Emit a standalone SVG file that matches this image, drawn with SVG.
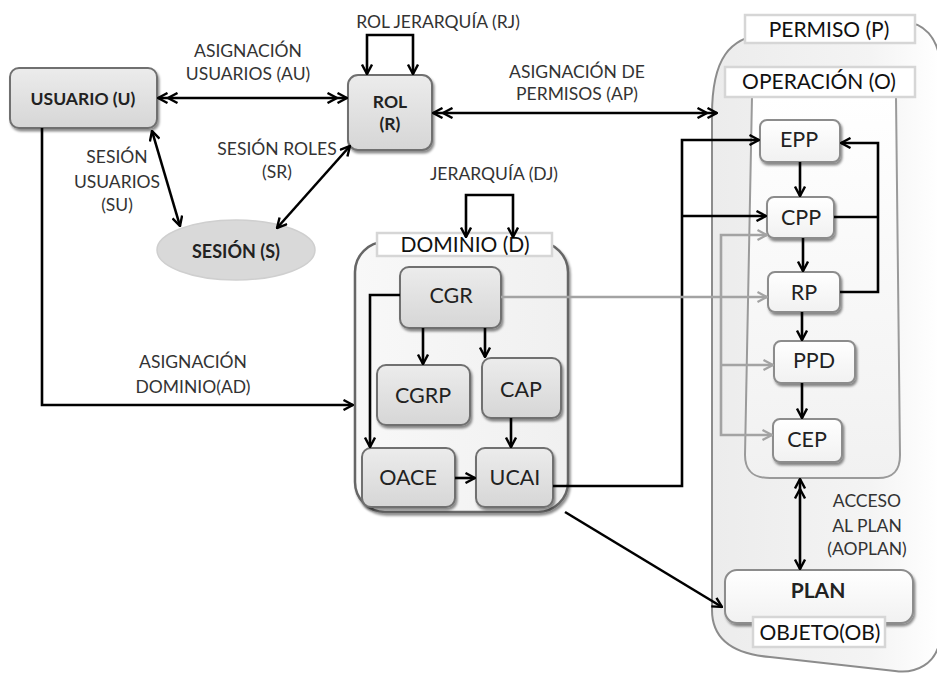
<svg xmlns="http://www.w3.org/2000/svg" width="937" height="675" viewBox="0 0 937 675">
<defs>
<style>
.lbl{font-family:Lato,"Liberation Sans",sans-serif;font-size:17.5px;fill:#333;text-anchor:middle}
.tg{font-family:Lato,"Liberation Sans",sans-serif;font-size:21px;fill:#111;text-anchor:middle}
.nt{font-family:Lato,"Liberation Sans",sans-serif;font-size:21.5px;fill:#222;text-anchor:middle}
.bt{font-family:Lato,"Liberation Sans",sans-serif;font-size:17.5px;font-weight:bold;fill:#222;text-anchor:middle}
.gn{fill:url(#gg);stroke:#707070;stroke-width:2}
.wn{fill:url(#wg);stroke:#8c8c8c;stroke-width:2}
.tag{fill:#fff;stroke:#d6d6d6;stroke-width:2.5}
.k{fill:none;stroke:#000;stroke-width:2.6}
.g{fill:none;stroke:#a3a3a3;stroke-width:2.6}
</style>
<linearGradient id="gg" x1="0" y1="0" x2="0" y2="1"><stop offset="0" stop-color="#ececec"/><stop offset="1" stop-color="#d6d6d6"/></linearGradient>
<linearGradient id="wg" x1="0" y1="0" x2="0" y2="1"><stop offset="0" stop-color="#ffffff"/><stop offset="1" stop-color="#f1f1f1"/></linearGradient>
<linearGradient id="pg" x1="0" y1="0" x2="1" y2="0"><stop offset="0" stop-color="#ececec"/><stop offset="0.7" stop-color="#f4f4f4"/><stop offset="1" stop-color="#ffffff"/></linearGradient>
<linearGradient id="dg" x1="0" y1="0" x2="1" y2="0"><stop offset="0" stop-color="#f8f8f8"/><stop offset="1" stop-color="#f0f0f0"/></linearGradient>
<filter id="sh" x="-10%" y="-10%" width="130%" height="140%"><feDropShadow dx="1.5" dy="2.5" stdDeviation="1.2" flood-color="#000" flood-opacity="0.45"/></filter>
<marker id="a" viewBox="0 0 12 12" refX="11" refY="6" markerWidth="12" markerHeight="12" orient="auto-start-reverse" markerUnits="userSpaceOnUse"><path d="M1.5 1 L11 6 L1.5 11" fill="none" stroke="#000" stroke-width="2.4"/></marker>
<marker id="a2" viewBox="0 0 22 12" refX="21" refY="6" markerWidth="22" markerHeight="12" orient="auto-start-reverse" markerUnits="userSpaceOnUse"><path d="M1.5 1 L11 6 L1.5 11 M11.5 1 L21 6 L11.5 11" fill="none" stroke="#000" stroke-width="2.4"/></marker>
<marker id="ag" viewBox="0 0 12 12" refX="11" refY="6" markerWidth="12" markerHeight="12" orient="auto-start-reverse" markerUnits="userSpaceOnUse"><path d="M1.5 1 L11 6 L1.5 11" fill="none" stroke="#a3a3a3" stroke-width="2.2"/></marker>
</defs>
<rect width="937" height="675" fill="#fff"/>

<g id="permiso">
<path d="M712 115 C712 60 728 36 770 33 L900 22 C926 21 937 40 940 60 L940 640 C936 664 916 674 895 671 L770 657 C734 654 712 640 712 610 Z" fill="url(#pg)" stroke="#8c8c8c" stroke-width="2"/>
<rect class="tag" x="745" y="15" width="170" height="28"/>
<text class="tg" x="829" y="37">PERMISO (P)</text>
</g>

<g id="operacion">
<path d="M752 97 L745 455 C745 470 752 478 770 478 L878 478 C894 478 900 470 900 455 L896 97 Z" fill="url(#wg)" stroke="#9a9a9a" stroke-width="2"/>
<rect class="tag" x="725" y="67" width="190" height="30"/>
<text class="tg" x="819" y="89">OPERACIÓN (O)</text>
</g>

<g id="dominio">
<rect x="355" y="242" width="213" height="270" rx="30" fill="url(#dg)" stroke="#666" stroke-width="2.5" filter="url(#sh)"/>
<rect class="tag" x="377" y="233" width="175" height="23"/>
<text class="tg" x="465" y="252">DOMINIO (D)</text>
</g>

<g id="usuario"><rect class="gn" x="10" y="68" width="147" height="60" rx="9" filter="url(#sh)"/><text class="bt" x="83" y="105">USUARIO (U)</text></g>
<g id="rol"><rect class="gn" x="348" y="75" width="84" height="75" rx="10" filter="url(#sh)"/><text class="bt" x="390" y="108">ROL</text><text class="bt" x="390" y="130">(R)</text></g>
<g id="sesion"><ellipse cx="236" cy="250" rx="79" ry="30" fill="#d9d9d9" stroke="#cfcfcf" stroke-width="1.5"/><text class="bt" x="236" y="258" style="font-size:18px">SESIÓN (S)</text></g>

<g id="cgr"><rect class="gn" x="400" y="267" width="101" height="61" rx="9" filter="url(#sh)"/><text class="nt" x="451" y="303">CGR</text></g>
<g id="cgrp"><rect class="gn" x="377" y="365" width="93" height="60" rx="9" filter="url(#sh)"/><text class="nt" x="423" y="403">CGRP</text></g>
<g id="cap"><rect class="gn" x="482" y="358" width="79" height="60" rx="9" filter="url(#sh)"/><text class="nt" x="521" y="397">CAP</text></g>
<g id="oace"><rect class="gn" x="362" y="448" width="93" height="59" rx="9" filter="url(#sh)"/><text class="nt" x="408" y="485">OACE</text></g>
<g id="ucai"><rect class="gn" x="476" y="448" width="77" height="59" rx="9" filter="url(#sh)"/><text class="nt" x="515" y="485">UCAI</text></g>

<g id="epp"><rect class="wn" x="760" y="120" width="80" height="42" rx="7" filter="url(#sh)"/><text class="nt" x="799" y="147">EPP</text></g>
<g id="cpp"><rect class="wn" x="767" y="197" width="67" height="41" rx="7" filter="url(#sh)"/><text class="nt" x="801" y="225">CPP</text></g>
<g id="rp"><rect class="wn" x="768" y="272" width="72" height="40" rx="7" filter="url(#sh)"/><text class="nt" x="804" y="300">RP</text></g>
<g id="ppd"><rect class="wn" x="774" y="341" width="81" height="42" rx="7" filter="url(#sh)"/><text class="nt" x="814" y="368">PPD</text></g>
<g id="cep"><rect class="wn" x="773" y="419" width="69" height="43" rx="7" filter="url(#sh)"/><text class="nt" x="807" y="447">CEP</text></g>

<g id="plan"><rect class="wn" x="725" y="570" width="188" height="53" rx="12" filter="url(#sh)"/><text class="bt" x="818" y="598" style="font-size:21px">PLAN</text>
<rect class="tag" x="753" y="617" width="132" height="30"/><text class="tg" x="820" y="640">OBJETO(OB)</text></g>

<g id="connectors">
<line class="k" x1="158" y1="98" x2="347" y2="98" marker-start="url(#a2)" marker-end="url(#a2)"/>
<path class="k" d="M367 74 L367 35 L413 35 L413 74" marker-start="url(#a)" marker-end="url(#a)"/>
<line class="k" x1="433" y1="113" x2="717" y2="113" marker-start="url(#a2)" marker-end="url(#a2)"/>
<line class="k" x1="152" y1="131" x2="180" y2="226" marker-start="url(#a)" marker-end="url(#a)"/>
<line class="k" x1="350" y1="146" x2="277" y2="228" marker-start="url(#a)" marker-end="url(#a)"/>
<path class="k" d="M42 128 L42 405 L353 405" marker-end="url(#a)"/>
<path class="k" d="M466 237 L466 195 L513 195 L513 237" marker-start="url(#a)" marker-end="url(#a)"/>
<line class="k" x1="423" y1="328" x2="423" y2="364" marker-end="url(#a)"/>
<line class="k" x1="485" y1="328" x2="485" y2="357" marker-end="url(#a)"/>
<line class="k" x1="511" y1="418" x2="511" y2="447" marker-end="url(#a)"/>
<line class="k" x1="455" y1="478" x2="475" y2="478" marker-end="url(#a)"/>
<path class="k" d="M400 295 L370 295 L370 447" marker-end="url(#a)"/>
<path class="k" d="M553 486 L682 486 L682 140 L759 140" marker-end="url(#a)"/>
<line class="k" x1="682" y1="216" x2="766" y2="216" marker-end="url(#a)"/>
<line class="k" x1="800" y1="162" x2="800" y2="196" marker-end="url(#a)"/>
<line class="k" x1="803" y1="238" x2="803" y2="271" marker-end="url(#a)"/>
<line class="k" x1="802" y1="312" x2="802" y2="340" marker-end="url(#a)"/>
<line class="k" x1="802" y1="383" x2="802" y2="418" marker-end="url(#a)"/>
<line class="k" x1="834" y1="217" x2="878" y2="217"/>
<path class="k" d="M840 292 L878 292 L878 143 L841 143" marker-end="url(#a)"/>
<line class="k" x1="565" y1="512" x2="722" y2="607" marker-end="url(#a)"/>
<line class="k" x1="800" y1="479" x2="800" y2="569" marker-start="url(#a2)" marker-end="url(#a)"/>
<line class="g" x1="501" y1="297" x2="767" y2="297" marker-end="url(#ag)"/>
<path class="g" d="M767 235 L721 235 L721 435 L772 435" marker-start="url(#ag)" marker-end="url(#ag)"/>
<line class="g" x1="721" y1="365" x2="773" y2="365" marker-end="url(#ag)"/>
</g>

<g id="labels">
<text class="lbl" x="248" y="57">ASIGNACIÓN</text>
<text class="lbl" x="248" y="80">USUARIOS (AU)</text>
<text class="lbl" x="438" y="28">ROL JERARQUÍA  (RJ)</text>
<text class="lbl" x="577" y="78">ASIGNACIÓN DE</text>
<text class="lbl" x="577" y="100">PERMISOS (AP)</text>
<text class="lbl" x="117" y="163">SESIÓN</text>
<text class="lbl" x="117" y="188">USUARIOS</text>
<text class="lbl" x="117" y="211">(SU)</text>
<text class="lbl" x="277" y="155">SESIÓN ROLES</text>
<text class="lbl" x="277" y="178">(SR)</text>
<text class="lbl" x="494" y="180">JERARQUÍA  (DJ)</text>
<text class="lbl" x="193" y="368">ASIGNACIÓN</text>
<text class="lbl" x="193" y="393">DOMINIO(AD)</text>
<text class="lbl" x="867" y="507">ACCESO</text>
<text class="lbl" x="867" y="532">AL PLAN</text>
<text class="lbl" x="867" y="555">(AOPLAN)</text>
</g>
</svg>
